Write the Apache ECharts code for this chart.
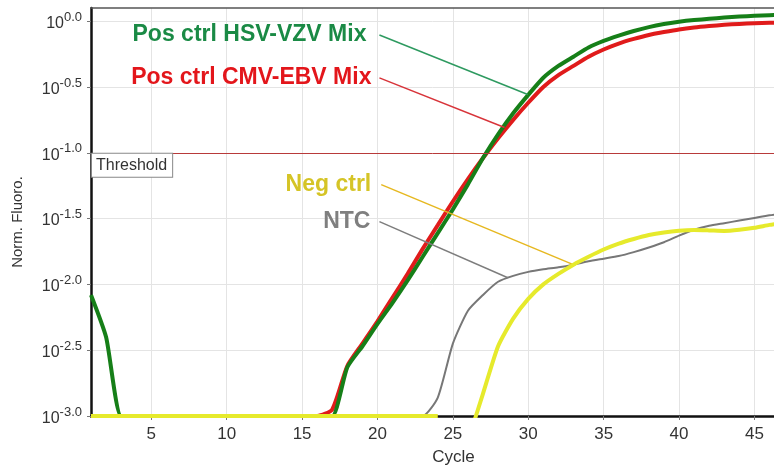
<!DOCTYPE html>
<html>
<head>
<meta charset="utf-8">
<script src="https://cdn.jsdelivr.net/npm/echarts@6/dist/echarts.min.js"></script>
<style>
html,body{margin:0;padding:0;background:#fff;}
#chart{width:774px;height:471px;}
</style>
</head>
<body>
<div id="chart"></div>
<script>
// Cycles (x)
const cycles = [1,2,3,4,5,6,7,8,9,10,11,12,13,14,15,16,17,18,19,20,21,22,23,24,25,26,27,28,29,30,31,32,33,34,35,36,37,38,39,40,41,42,43,44,45,46,47];
// log10(Norm. Fluoro.)
const hsvVzv = [-2.08,-2.40,-3.0,-3.0,-3.0,-3.0,-3.0,-3.0,-3.0,-3.0,-3.0,-3.0,-3.0,-3.0,-3.0,-3.0,-3.0,-2.63,-2.47,-2.30,-2.14,-1.97,-1.79,-1.61,-1.43,-1.24,-1.04,-0.86,-0.70,-0.56,-0.43,-0.34,-0.27,-0.20,-0.15,-0.11,-0.075,-0.045,-0.022,-0.005,0.008,0.018,0.027,0.035,0.041,0.045,0.048];
const cmvEbv = [-3.0,-3.0,-3.0,-3.0,-3.0,-3.0,-3.0,-3.0,-3.0,-3.0,-3.0,-3.0,-3.0,-3.0,-3.0,-3.0,-2.95,-2.62,-2.45,-2.28,-2.10,-1.92,-1.73,-1.55,-1.37,-1.20,-1.04,-0.89,-0.75,-0.62,-0.50,-0.41,-0.34,-0.27,-0.215,-0.17,-0.135,-0.105,-0.083,-0.063,-0.048,-0.037,-0.028,-0.021,-0.016,-0.013,-0.011];
const ntc = [-3.0,-3.0,-3.0,-3.0,-3.0,-3.0,-3.0,-3.0,-3.0,-3.0,-3.0,-3.0,-3.0,-3.0,-3.0,-3.0,-3.0,-3.0,-3.0,-3.0,-3.0,-3.0,-3.0,-2.86,-2.45,-2.20,-2.08,-1.98,-1.935,-1.905,-1.885,-1.87,-1.85,-1.825,-1.805,-1.785,-1.755,-1.72,-1.68,-1.63,-1.585,-1.555,-1.535,-1.515,-1.495,-1.475,-1.46];
const negCtrl = [-3.0,-3.0,-3.0,-3.0,-3.0,-3.0,-3.0,-3.0,-3.0,-3.0,-3.0,-3.0,-3.0,-3.0,-3.0,-3.0,-3.0,-3.0,-3.0,-3.0,-3.0,-3.0,-3.0,-3.0,null,-3.19,-2.83,-2.47,-2.26,-2.11,-2.00,-1.92,-1.85,-1.79,-1.735,-1.69,-1.655,-1.625,-1.605,-1.592,-1.587,-1.59,-1.594,-1.585,-1.57,-1.548,-1.53];
// Axis ticks
const xTicks = [5,10,15,20,25,30,35,40,45];
const yTicks = [-3,-2.5,-2,-1.5,-1,-0.5,0];
const thresholdLog = -1.0;

const FONT = '"Liberation Sans", Arial, sans-serif';
const pairs = arr => cycles.map((c, i) => [c, arr[i]]);

function leader(from, to, color) {
  return {
    symbol: ['none', 'none'], silent: true, animation: false,
    lineStyle: { color: color, width: 1.5, type: 'solid' },
    label: { show: false },
    emphasis: { disabled: true },
    data: [[{ coord: from }, { coord: to }]]
  };
}
function tag(at, text, color, dist) {
  return {
    silent: true, animation: false,
    data: [{
      coord: at, symbol: 'circle', symbolSize: 0,
      label: { show: true, position: 'left', distance: dist, formatter: text,
        color: color, fontSize: 23, fontWeight: 'bold', fontFamily: FONT }
    }]
  };
}

const chart = echarts.init(document.getElementById('chart'), null, { renderer: 'canvas' });
chart.setOption({
  animation: false,
  backgroundColor: '#ffffff',
  grid: { left: 91, top: 8, right: 0, bottom: 51.5, containLabel: false },
  xAxis: [{
    type: 'value', min: 1, max: 46.3,
    name: 'Cycle', nameLocation: 'middle', nameGap: 33,
    nameTextStyle: { fontSize: 17, color: '#333', fontFamily: FONT, padding: [0, 0, 0, 42] },
    axisLine: { show: true, onZero: false, lineStyle: { color: '#111', width: 2.5 } },
    axisTick: { show: true, customValues: xTicks, length: 4, lineStyle: { color: '#777' } },
    axisLabel: { customValues: xTicks, fontSize: 17, color: '#333', margin: 10, fontFamily: FONT },
    splitLine: { show: true, lineStyle: { color: '#e4e4e4', width: 1 } }
  }, {
    type: 'value', min: 1, max: 46.3, position: 'top',
    axisLine: { show: true, onZero: false, lineStyle: { color: '#555', width: 1.5 } },
    axisTick: { show: false }, axisLabel: { show: false }, splitLine: { show: false }
  }],
  yAxis: {
    type: 'value', min: -3, max: 0.1,
    name: 'Norm. Fluoro.', nameLocation: 'middle', nameGap: 66,
    nameTextStyle: { fontSize: 15, color: '#333', fontFamily: FONT, padding: [0, 20, 0, 0] },
    axisLine: { show: true, onZero: false, lineStyle: { color: '#111', width: 2.5 } },
    axisTick: { show: true, customValues: yTicks, length: 4, lineStyle: { color: '#777' } },
    axisLabel: {
      customValues: yTicks, margin: 9,
      formatter: v => '{b|10}{s|' + Number(v).toFixed(1) + '}',
      rich: {
        b: { fontSize: 16, color: '#333', fontFamily: FONT, verticalAlign: 'bottom' },
        s: { fontSize: 13, color: '#333', fontFamily: FONT, verticalAlign: 'bottom', padding: [0, 0, 8, 0] }
      }
    },
    splitLine: { show: true, lineStyle: { color: '#e4e4e4', width: 1 } }
  },
  series: [
    {
      name: 'NTC', type: 'line', data: pairs(ntc), showSymbol: false, symbol: 'none',
      smooth: 0.2, z: 2,
      lineStyle: { color: '#777777', width: 2 },
      markLine: leader([20.13, -1.523], [28.65, -1.95], '#7d7d7d'),
      markPoint: tag([20.13, -1.523], 'NTC', '#7f7f7f', 9)
    },
    {
      name: 'Pos ctrl CMV-EBV Mix', type: 'line', data: pairs(cmvEbv), showSymbol: false, symbol: 'none',
      smooth: 0.2, z: 3,
      lineStyle: { color: '#e01b1b', width: 4 },
      markLine: {
        symbol: ['none', 'none'], silent: true, animation: false,
        emphasis: { disabled: true },
        data: [
          [{ coord: [20.13, -0.431], lineStyle: { color: '#d8343a', width: 1.5, type: 'solid' }, label: { show: false } },
           { coord: [28.43, -0.808] }],
          { yAxis: thresholdLog, lineStyle: { color: '#b83a3a', width: 1, type: 'solid' },
            label: { show: true, position: 'insideStartBottom', distance: [1, 1], formatter: 'Threshold',
              color: '#333', fontSize: 16, fontFamily: FONT, backgroundColor: '#fff',
              borderColor: '#888', borderWidth: 1, padding: [4, 5, 3, 4] } }
        ]
      },
      markPoint: tag([20.13, -0.431], 'Pos ctrl CMV-EBV Mix', '#e3161b', 8)
    },
    {
      name: 'Pos ctrl HSV-VZV Mix', type: 'line', data: pairs(hsvVzv), showSymbol: false, symbol: 'none',
      smooth: 0.2, z: 4,
      lineStyle: { color: '#167f18', width: 4 },
      markLine: leader([20.13, -0.105], [29.97, -0.557], '#2e9a60'),
      markPoint: tag([20.13, -0.105], 'Pos ctrl HSV-VZV Mix', '#1a8a45', 13)
    },
    {
      name: 'Neg ctrl', type: 'line', data: pairs(negCtrl), showSymbol: false, symbol: 'none',
      smooth: 0.2, z: 5,
      lineStyle: { color: '#e6ea2c', width: 4 },
      markLine: leader([20.25, -1.242], [32.99, -1.85], '#e6b820'),
      markPoint: tag([20.25, -1.242], 'Neg ctrl', '#d5c426', 10)
    }
  ]
});
</script>
</body>
</html>
